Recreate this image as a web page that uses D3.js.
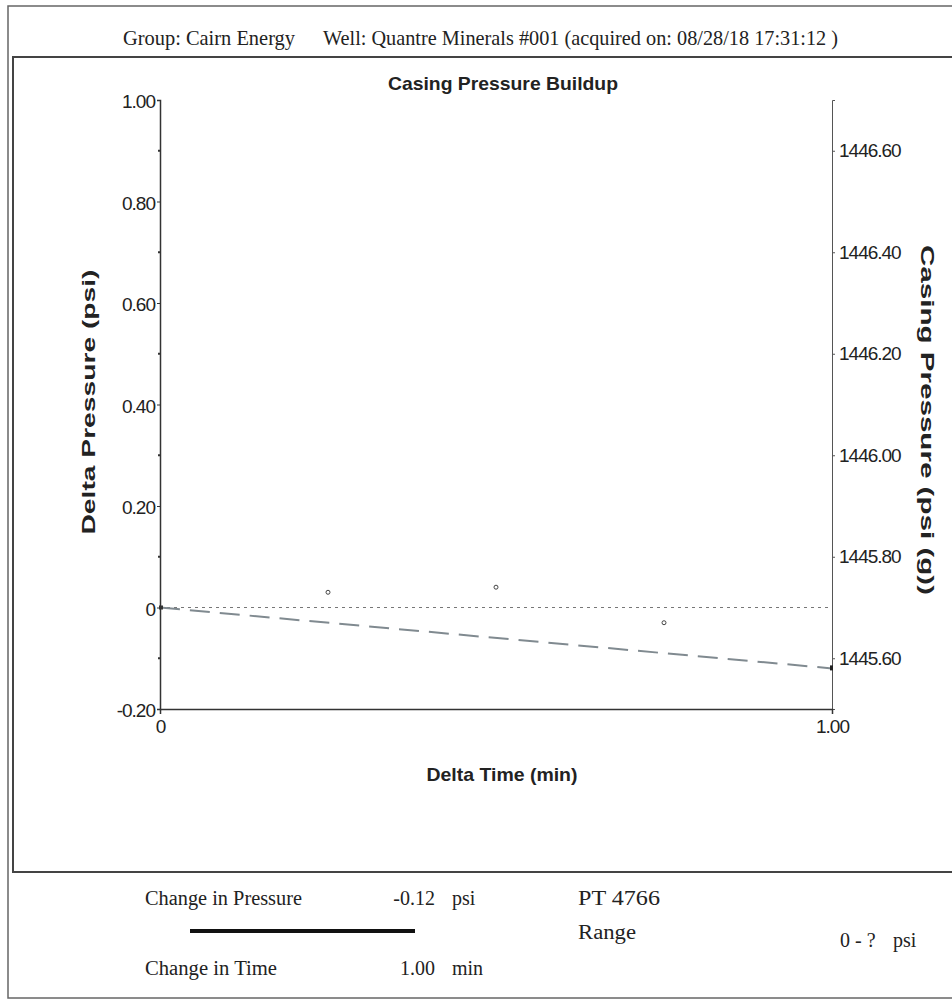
<!DOCTYPE html>
<html>
<head>
<meta charset="utf-8">
<script src="https://cdn.jsdelivr.net/npm/d3@7"></script>
<style>
  body { margin: 0; background: #fff; }
  text { fill: #222; }
</style>
</head>
<body>
<svg id="chart" width="952" height="1000"></svg>
<script>
// readings
const times = [0, 0.25, 0.5, 0.75, 1.0]
const deltas = [0, 0.03, 0.04, -0.03, -0.12]
const trendTimes = [0, 1.0]
const trendDeltas = [0, -0.12]
const leftTicks = [-0.2, 0, 0.2, 0.4, 0.6, 0.8, 1.0]
const leftMinor = [-0.1, 0.1, 0.3, 0.5, 0.7, 0.9]
const rightTicks = [1445.6, 1445.8, 1446.0, 1446.2, 1446.4, 1446.6]
const xTicks = [0, 1.0]
const basePressure = 1445.70

const svg = d3.select("#chart")
const sans = "'Liberation Sans', Arial, sans-serif"
const serif = "'Liberation Serif', 'Times New Roman', serif"

// frame
svg.append("rect").attr("x", 8).attr("y", 6).attr("width", 960).attr("height", 992)
  .attr("fill", "none").attr("stroke", "#666").attr("stroke-width", 1.5)
svg.append("rect").attr("x", 13).attr("y", 57).attr("width", 960).attr("height", 815)
  .attr("fill", "none").attr("stroke", "#444").attr("stroke-width", 2)

// header
function txt(x, y, s, opts) {
  const t = svg.append("text").attr("x", x).attr("y", y).text(s)
    .attr("font-family", opts.font || serif)
    .attr("font-size", opts.size || 20)
  if (opts.len) t.attr("textLength", opts.len).attr("lengthAdjust", "spacingAndGlyphs")
  if (opts.bold) t.attr("font-weight", "bold")
  if (opts.anchor) t.attr("text-anchor", opts.anchor)
  return t
}
txt(123, 45, "Group: Cairn Energy", { len: 172, size: 21 })
txt(323, 45, "Well: Quantre Minerals #001 (acquired on: 08/28/18 17:31:12 )", { len: 515, size: 21 })

// scales
const x = d3.scaleLinear().domain([0, 1]).range([160, 832])
const y = d3.scaleLinear().domain([-0.2, 1.0]).range([709, 100])
const yR = d3.scaleLinear().domain([basePressure - 0.2, basePressure + 1.0]).range([709, 100])

txt(503, 90, "Casing Pressure Buildup", { font: sans, bold: true, size: 19, len: 230, anchor: "middle" })

// left axis
const gl = svg.append("g").attr("transform", "translate(160,0)")
  .call(d3.axisLeft(y).tickValues(leftTicks).tickSize(3).tickPadding(2)
    .tickFormat(d => d === 0 ? "0" : d.toFixed(2)))
gl.selectAll("text").attr("font-family", sans).attr("font-size", 19)
  .attr("letter-spacing", -1).attr("fill", "#111").attr("dy", "0.4em")
gl.select(".domain").attr("stroke", "#333").attr("stroke-width", 1.5)
gl.selectAll(".tick line").attr("stroke", "#333")
gl.selectAll(".minor").data(leftMinor).join("line").attr("class", "minor")
  .attr("x1", -2).attr("x2", 0).attr("y1", d => y(d)).attr("y2", d => y(d))
  .attr("stroke", "#333").attr("stroke-width", 2)

// right axis
const gr = svg.append("g").attr("transform", "translate(832,0)")
  .call(d3.axisRight(yR).tickValues(rightTicks).tickSize(3).tickPadding(4)
    .tickFormat(d => d.toFixed(2)))
gr.selectAll("text").attr("font-family", sans).attr("font-size", 19)
  .attr("letter-spacing", -1).attr("fill", "#111")
gr.select(".domain").attr("stroke", "#555").attr("stroke-width", 1)
gr.selectAll(".tick line").attr("stroke", "#555")

// bottom axis
const gb = svg.append("g").attr("transform", "translate(0,709)")
  .call(d3.axisBottom(x).tickValues(xTicks).tickSize(5).tickPadding(6)
    .tickFormat(d => d === 0 ? "0" : d.toFixed(2)))
gb.selectAll("text").attr("font-family", sans).attr("font-size", 19)
  .attr("letter-spacing", -1).attr("fill", "#111")
gb.select(".domain").attr("stroke", "#333").attr("stroke-width", 1.5)
gb.selectAll(".tick line").attr("stroke", "#333")

// axis titles
txt(0, 0, "Delta Pressure (psi)", { font: sans, bold: true, size: 19, len: 265, anchor: "middle" })
  .attr("transform", "translate(95,402) rotate(-90)")
txt(0, 0, "Casing Pressure (psi (g))", { font: sans, bold: true, size: 19, len: 350, anchor: "middle" })
  .attr("transform", "translate(921,420) rotate(90)")
txt(502, 781, "Delta Time (min)", { font: sans, bold: true, size: 19, len: 151, anchor: "middle" })

// zero reference line
svg.append("line").attr("x1", x(0)).attr("x2", x(1)).attr("y1", y(0)).attr("y2", y(0))
  .attr("stroke", "#777").attr("stroke-width", 1.2).attr("stroke-dasharray", "3,4")

// trend line
const line = d3.line().x((d, i) => x(trendTimes[i])).y(d => y(d))
svg.append("path").datum(trendDeltas).attr("d", line)
  .attr("fill", "none").attr("stroke", "#808a90").attr("stroke-width", 2)
  .attr("stroke-dasharray", "20,10")

// data points
svg.selectAll(".pt").data(times.slice(1, -1)).join("circle").attr("class", "pt")
  .attr("cx", d => x(d)).attr("cy", (d, i) => y(deltas[i + 1])).attr("r", 2)
  .attr("fill", "none").attr("stroke", "#444").attr("stroke-width", 1)
svg.append("rect").attr("x", x(times[4]) - 2).attr("y", y(deltas[4]) - 3)
  .attr("width", 3).attr("height", 5).attr("fill", "#222")
svg.append("rect").attr("x", x(times[0]) - 1).attr("y", y(deltas[0]) - 2)
  .attr("width", 4).attr("height", 4).attr("fill", "#333")

// footer
txt(145, 905, "Change in Pressure", { len: 157, size: 20 })
txt(435, 905, deltas[4].toFixed(2), { size: 20, anchor: "end" })
txt(452, 905, "psi", { size: 20 })
svg.append("line").attr("x1", 190).attr("x2", 415).attr("y1", 931).attr("y2", 931)
  .attr("stroke", "#111").attr("stroke-width", 4)
txt(145, 975, "Change in Time", { len: 132, size: 20 })
txt(435, 975, times[4].toFixed(2), { size: 20, anchor: "end" })
txt(452, 975, "min", { size: 20 })
txt(578, 905, "PT 4766", { len: 82, size: 20 })
txt(578, 939, "Range", { len: 58, size: 20 })
txt(840, 947, "0 - ?", { size: 20 })
txt(893, 947, "psi", { size: 20 })
</script>
</body>
</html>
